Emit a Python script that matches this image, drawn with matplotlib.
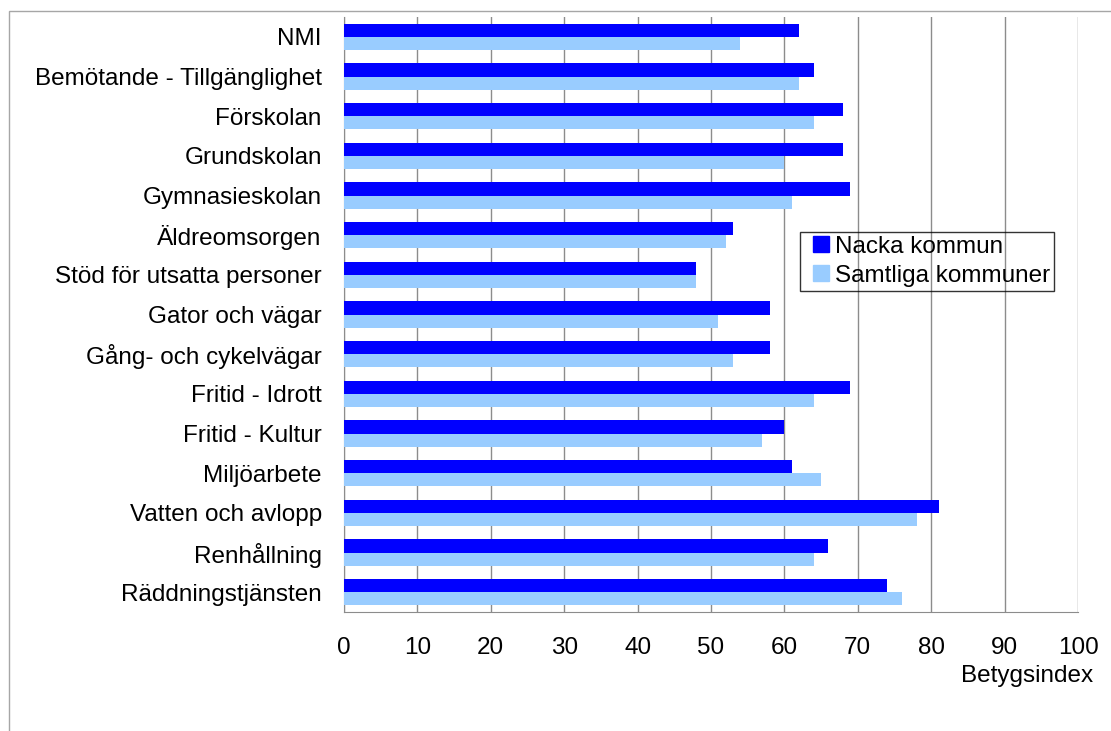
import matplotlib.pyplot as plt
import numpy as np
from matplotlib.patches import Rectangle
from matplotlib.lines import Line2D

plt.rcParams['font.family'] = ['Liberation Sans', 'DejaVu Sans']

categories = ['NMI', 'Bemötande - Tillgänglighet', 'Förskolan', 'Grundskolan',
              'Gymnasieskolan', 'Äldreomsorgen', 'Stöd för utsatta personer',
              'Gator och vägar', 'Gång- och cykelvägar', 'Fritid - Idrott',
              'Fritid - Kultur', 'Miljöarbete', 'Vatten och avlopp',
              'Renhållning', 'Räddningstjänsten']
nacka = [62, 64, 68, 68, 69, 53, 48, 58, 58, 69, 60, 61, 81, 66, 74]
samtliga = [54, 62, 64, 60, 61, 52, 48, 51, 53, 64, 57, 65, 78, 64, 76]
xticks = [0, 10, 20, 30, 40, 50, 60, 70, 80, 90, 100]
series_names = ['Nacka kommun', 'Samtliga kommuner']
colors = ['#0000ff', '#99ccff']

fig = plt.figure(figsize=(11.11, 7.31), dpi=100)
ax = fig.add_axes([344 / 1111, 1 - 612 / 731, 734 / 1111, 595 / 731])

# outer chart frame
fig.patches.append(Rectangle((9 / 1111, -0.1), 1.2, 1 - 11 / 731 + 0.1,
                             transform=fig.transFigure, fill=False,
                             edgecolor='#a6a6a6', linewidth=1))

y = np.arange(len(categories))
h = 0.33
ax.barh(y - h / 2, nacka, height=h, color=colors[0], zorder=3)
ax.barh(y + h / 2, samtliga, height=h, color=colors[1], zorder=3)

ax.set_xlim(0, 100)
ax.set_ylim(len(categories) - 0.5, -0.5)
ax.set_xticks(xticks)
ax.set_yticks(y)
ax.set_yticklabels(categories, fontsize=17.5)
ax.tick_params(axis='y', length=0, pad=16)
ax.tick_params(axis='x', length=0, pad=18, labelsize=17.5)
ax.xaxis.grid(True, color='#8c8c8c', linewidth=1, zorder=0)

for s in ['top', 'right']:
    ax.spines[s].set_visible(False)
ax.spines['left'].set_color('#8c8c8c')
ax.spines['bottom'].set_color('#8c8c8c')

ax.text(1.0205, -0.108, 'Betygsindex', transform=ax.transAxes,
        ha='right', va='center', fontsize=17.5)

handles = [Line2D([], [], linestyle='none', marker='s', markersize=11,
                  markerfacecolor=c, markeredgecolor=c) for c in colors]
leg = ax.legend(handles, series_names,
                loc='upper left', bbox_to_anchor=((800 - 344) / 734, 1 - (232 - 17) / 595),
                fontsize=17.5, frameon=True, fancybox=False,
                handlelength=1.45, handletextpad=-0.15,
                borderpad=0.15, labelspacing=0.3, borderaxespad=0)
leg.get_frame().set_facecolor('none')
leg.get_frame().set_edgecolor('black')
leg.get_frame().set_linewidth(1)

fig.savefig('out.png', dpi=100)
